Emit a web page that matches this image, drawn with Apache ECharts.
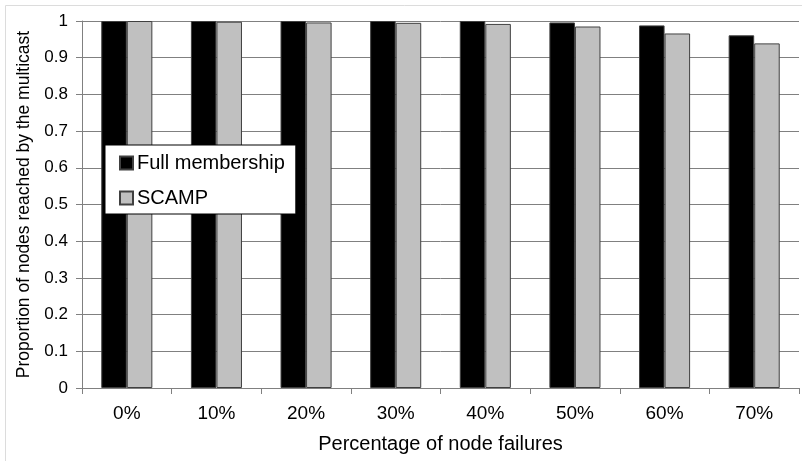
<!DOCTYPE html>
<html>
<head>
<meta charset="utf-8">
<script src="https://cdn.jsdelivr.net/npm/echarts@6/dist/echarts.min.js"></script>
<style>
html,body{margin:0;padding:0;background:#fff;}
#chart{width:802px;height:461px;}
</style>
</head>
<body>
<div id="chart"></div>
<script>
var categories = ['0%', '10%', '20%', '30%', '40%', '50%', '60%', '70%'];
var fullMembership = [1, 1, 1, 1, 1, 0.996, 0.988, 0.961];
var scamp = [1, 0.998, 0.996, 0.995, 0.992, 0.985, 0.966, 0.939];
var seriesNames = ['Full membership', 'SCAMP'];
var xTitle = 'Percentage of node failures';
var yTitle = 'Proportion of nodes reached by the multicast';

var FONT = 'Liberation Sans, Arial, Helvetica, sans-serif';
var chart = echarts.init(document.getElementById('chart'), null, {renderer: 'canvas'});
chart.setOption({
  backgroundColor: '#fff',
  animation: false,
  textStyle: {fontFamily: FONT, color: '#000'},
  graphic: [{
    type: 'rect', silent: true, z: -1,
    shape: {x: 5.5, y: 5.5, width: 820, height: 480},
    style: {fill: 'none', stroke: '#dcdcdc', lineWidth: 1}
  }],
  grid: {left: 82, right: 3, top: 21, bottom: 73, containLabel: false},
  legend: {
    orient: 'vertical',
    left: 105, top: 145,
    padding: [7, 11, 5, 14],
    itemGap: 13,
    itemWidth: 13, itemHeight: 13,
    backgroundColor: '#fff',
    borderColor: '#000', borderWidth: 1,
    icon: 'rect',
    textStyle: {fontFamily: FONT, fontSize: 20, color: '#000', lineHeight: 22, padding: [0,0,0,-1]},
    data: seriesNames
  },
  xAxis: {
    type: 'category',
    data: categories,
    name: xTitle,
    nameLocation: 'middle',
    nameGap: 46,
    nameTextStyle: {fontFamily: FONT, fontSize: 20, color: '#000'},
    axisLine: {lineStyle: {color: '#808080', width: 1}},
    axisTick: {show: true, length: 6, lineStyle: {color: '#808080'}},
    axisLabel: {fontFamily: FONT, fontSize: 19, color: '#000', margin: 16},
    splitLine: {show: false}
  },
  yAxis: {
    type: 'value',
    min: 0, max: 1, interval: 0.1,
    name: yTitle,
    nameLocation: 'middle',
    nameGap: 47,
    nameTextStyle: {fontFamily: FONT, fontSize: 17.5, color: '#000'},
    axisLine: {show: true, lineStyle: {color: '#808080', width: 1}},
    axisTick: {show: true, length: 6, lineStyle: {color: '#808080'}},
    axisLabel: {
      fontFamily: FONT, fontSize: 17, color: '#000', margin: 14,
      formatter: function (v) { return String(Math.round(v * 10) / 10); }
    },
    splitLine: {show: true, lineStyle: {color: '#808080', width: 1}}
  },
  series: [{
    name: seriesNames[0],
    type: 'bar',
    data: fullMembership,
    barGap: '0%',
    barCategoryGap: '43%',
    itemStyle: {color: '#000000', borderColor: '#404040', borderWidth: 1}
  }, {
    name: seriesNames[1],
    type: 'bar',
    data: scamp,
    barGap: '0%',
    barCategoryGap: '43%',
    itemStyle: {color: '#c0c0c0', borderColor: '#404040', borderWidth: 1}
  }]
});
</script>
</body>
</html>
